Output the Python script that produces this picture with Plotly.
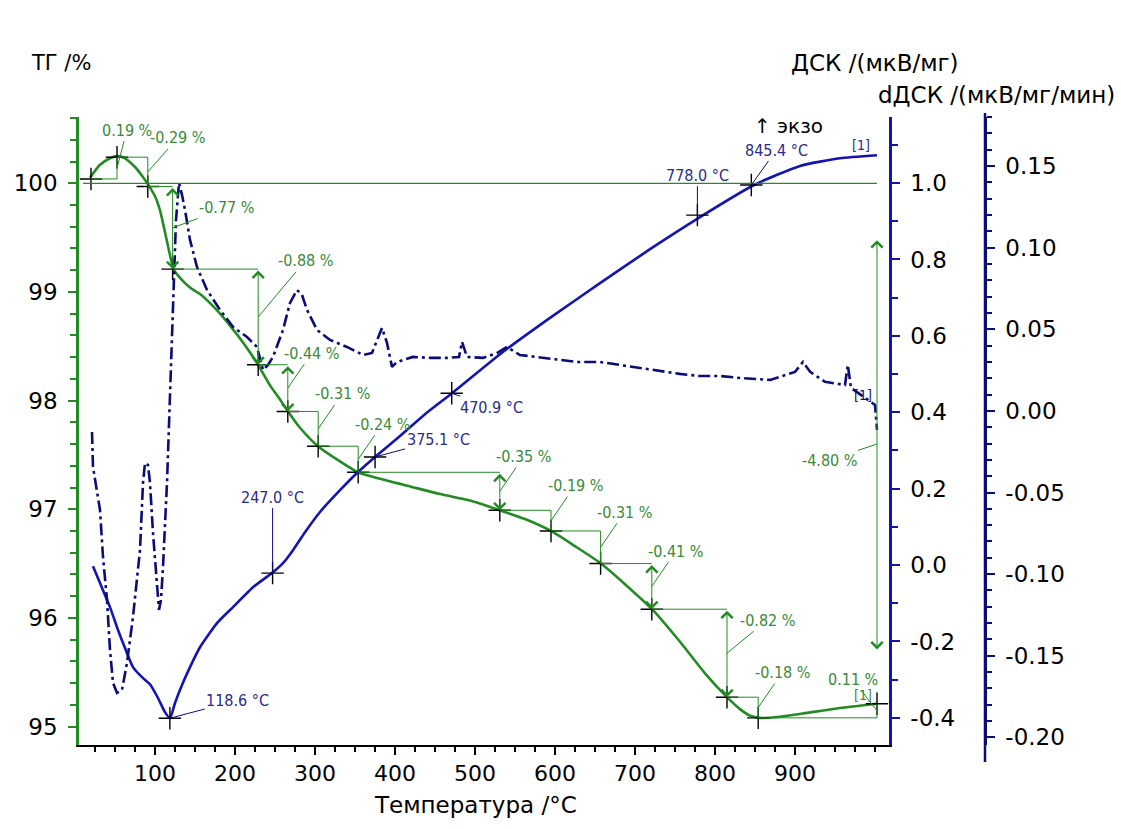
import plotly.graph_objects as go

# ---------------- data ----------------
tg_T = [18.75, 31.25, 43.75, 52.5, 62.5, 75, 83.75, 91.25, 100, 106.25, 112.5, 118.75, 123.75,
        131.25, 143.75, 156.25, 175, 193.75, 212.5, 228.75, 243.75, 256.25, 266.25, 281.25,
        303.75, 331.25, 353.75, 381.25, 418.75, 456.25, 493.75, 531.25, 562.5, 595, 625,
        657.5, 687.5, 721.25, 756.25, 787.5, 815, 831.25, 843.75, 856.25, 881.25, 918.75,
        956.25, 1002.5]
tg_val = [100.05, 100.17, 100.23, 100.25, 100.23, 100.15, 100.07, 99.99, 99.88, 99.75, 99.55,
          99.34, 99.20, 99.13, 99.04, 98.98, 98.85, 98.69, 98.51, 98.33, 98.14, 98.01, 97.90,
          97.75, 97.58, 97.44, 97.34, 97.28, 97.21, 97.14, 97.08, 96.99, 96.91, 96.80, 96.66,
          96.50, 96.31, 96.08, 95.78, 95.49, 95.27, 95.16, 95.10, 95.08, 95.09, 95.13, 95.17,
          95.21]

dsc_T = [22.5, 31.25, 43.75, 53.75, 62.5, 72.5, 85, 93.75, 103.75, 112.5, 118.75, 125, 133.75,
         143.75, 156.25, 177.5, 197.5, 222.5, 246.25, 260, 272.5, 287.5, 306.25, 331.25,
         352.5, 375, 406.25, 437.5, 471.25, 531.25, 593.75, 656.25, 718.75, 781.25, 848.75,
         906.25, 956.25, 1002.5]
dsc_val = [-0.003, -0.047, -0.110, -0.170, -0.217, -0.267, -0.296, -0.312, -0.348, -0.385,
           -0.401, -0.361, -0.314, -0.267, -0.215, -0.152, -0.110, -0.058, -0.021, 0.005,
           0.039, 0.086, 0.139, 0.196, 0.241, 0.283, 0.338, 0.395, 0.450, 0.552, 0.647,
           0.738, 0.827, 0.911, 0.995, 1.045, 1.065, 1.073]

ddsc_T = [21.25, 22.5, 31.25, 35, 40, 43.75, 47.5, 52.5, 58.75, 65, 72.5, 81.25, 85, 87.5,
          91.25, 93.75, 97.5, 102.5, 105, 107.5, 110, 115, 118.75, 122.5, 126.25, 130,
          133.75, 137.5, 143.75, 152.5, 165, 181.25, 197.5, 215, 227.5, 235, 241.25, 247.5,
          260, 268.75, 277.5, 283.75, 290, 302.5, 318.75, 340, 360, 371.25, 377.5, 383.75,
          390, 396.25, 402.5, 422.5, 443.75, 465, 480, 483.75, 490, 510, 527.5, 540, 556,
          577.5, 602.5, 627.5, 656, 681, 719, 756, 781, 806, 831, 869, 900, 910, 919, 937.5,
          962.5, 966, 970, 987.5, 1000, 1002.5]
ddsc_val = [-0.0129, -0.0343, -0.0607, -0.0895, -0.1158, -0.1464, -0.1667, -0.1728, -0.171,
            -0.1544, -0.1262, -0.0852, -0.0441, -0.0319, -0.0331, -0.0441, -0.0748, -0.1054,
            -0.1219, -0.1158, -0.0956, -0.0441, 0.0067, 0.068, 0.117, 0.1397, 0.1324, 0.1232,
            0.1048, 0.0882, 0.0741, 0.0619, 0.0515, 0.0453, 0.0392, 0.0251, 0.0282, 0.0331,
            0.0496, 0.0662, 0.0741, 0.0711, 0.0619, 0.0496, 0.0435, 0.0392, 0.0343, 0.0355,
            0.0435, 0.0509, 0.0417, 0.027, 0.03, 0.0331, 0.0325, 0.0325, 0.0330, 0.0423,
            0.0331, 0.0325, 0.0355, 0.0392, 0.0343, 0.0331, 0.0313, 0.030, 0.030, 0.0282,
            0.0251, 0.0227, 0.0214, 0.0214, 0.0202, 0.019, 0.0239, 0.030, 0.0239, 0.0178,
            0.0159, 0.0282, 0.0141, 0.008, 0.0037, -0.0116]

step_T = [20, 52.5, 91, 122, 229, 266, 304, 354, 531, 595, 657, 721, 815, 854, 1002.5]
step_TG = [100.04, 100.24, 99.97, 99.21, 98.33, 97.90, 97.58, 97.34, 96.99, 96.80, 96.50,
           96.08, 95.27, 95.08, 95.21]
step_labels = ["0.19 %", "-0.29 %", "-0.77 %", "-0.88 %", "-0.44 %", "-0.31 %", "-0.24 %",
               "-0.35 %", "-0.19 %", "-0.31 %", "-0.41 %", "-0.82 %", "-0.18 %", "0.11 %"]
total_label = "-4.80 %"

peak_T = [118.6, 247.0, 375.1, 470.9, 778.0, 845.4]
peak_DSC = [-0.401, -0.021, 0.283, 0.450, 0.916, 0.995]
peak_labels = ["118.6 °C", "247.0 °C", "375.1 °C", "470.9 °C", "778.0 °C", "845.4 °C"]

x_ticks = [100, 200, 300, 400, 500, 600, 700, 800, 900]
tg_ticks = [95, 96, 97, 98, 99, 100]
dsc_ticks = [-0.4, -0.2, 0.0, 0.2, 0.4, 0.6, 0.8, 1.0]
dsc_ticktext = ["-0.4", "-0.2", "0.0", "0.2", "0.4", "0.6", "0.8", "1.0"]
ddsc_ticks = [-0.20, -0.15, -0.10, -0.05, 0.00, 0.05, 0.10, 0.15]
ddsc_ticktext = ["-0.20", "-0.15", "-0.10", "-0.05", "0.00", "0.05", "0.10", "0.15"]

# ---------------- style ----------------
W, H = 1121, 829
ML, MT, MB, MR = 79, 117, 84, 100
PW = W - ML - MR
PH = H - MT - MB
XD = 810 / PW
Y3POS = (985 - ML) / PW

GREEN = "#238b23"
GREEN_TXT = "#3a8a3a"
BLUE = "#1414b4"
NAVY = "#0c0c78"
BLUE_TXT = "#2b2b8c"
AXF = "DejaVu Sans"
SMALLF = "Liberation Sans Narrow, DejaVu Sans Condensed, Arial Narrow, sans-serif"
TICKF = dict(family=AXF, size=23, color="black")

fig = go.Figure()

fig.add_trace(go.Scatter(x=tg_T, y=tg_val, mode="lines", yaxis="y",
                         line=dict(color=GREEN, width=2.6, shape="spline", smoothing=0.6),
                         showlegend=False))
fig.add_trace(go.Scatter(x=dsc_T, y=dsc_val, mode="lines", yaxis="y2",
                         line=dict(color=BLUE, width=2.6, shape="spline", smoothing=0.5),
                         showlegend=False))
fig.add_trace(go.Scatter(x=ddsc_T, y=ddsc_val, mode="lines", yaxis="y3",
                         line=dict(color=NAVY, width=2.6, dash="12px,4px,3px,4px"),
                         showlegend=False))

# crosses
fig.add_trace(go.Scatter(x=step_T, y=step_TG, mode="markers", yaxis="y",
                         marker=dict(symbol="cross-thin", size=16,
                                     line=dict(color="black", width=1.4)),
                         showlegend=False))
fig.add_trace(go.Scatter(x=peak_T, y=peak_DSC, mode="markers", yaxis="y2",
                         marker=dict(symbol="cross-thin", size=16,
                                     line=dict(color="black", width=1.4)),
                         showlegend=False))

shapes = []
annots = []

# 100 % reference line
shapes.append(dict(type="line", xref="x", yref="y", x0=step_T[0] - 10, x1=step_T[-1],
                   y0=100, y1=100, line=dict(color=GREEN, width=1.2)))
# longer dDSC axis line (as in the reference)
shapes.append(dict(type="line", xref="paper", yref="paper", x0=Y3POS, x1=Y3POS,
                   y0=-(762 - 745) / PH, y1=1 + (MT - 113) / PH,
                   line=dict(color=NAVY, width=2.5)))

label_offsets = {0: (10, -38), 1: (30, -34), 2: (54, -20), 3: (47, -56), 11: (40, -33),
                 13: (-24, -31)}
for i, lab in enumerate(step_labels):
    t0, t1 = step_T[i], step_T[i + 1]
    g0, g1 = step_TG[i], step_TG[i + 1]
    shapes.append(dict(type="line", xref="x", yref="y", x0=t0, x1=t1, y0=g0, y1=g0,
                       line=dict(color=GREEN, width=1)))
    if abs(g1 - g0) > 0.33:
        annots.append(dict(x=t1, y=g1, ax=t1, ay=g0, xref="x", yref="y", axref="x",
                           ayref="y", text="", showarrow=True, arrowhead=4,
                           startarrowhead=4, arrowside="end+start", arrowsize=2.2,
                           startarrowsize=2.2, arrowwidth=1, arrowcolor=GREEN))
    else:
        shapes.append(dict(type="line", xref="x", yref="y", x0=t1, x1=t1, y0=g0, y1=g1,
                           line=dict(color=GREEN, width=1)))
    dx, dy = label_offsets.get(i, (24, -35))
    annots.append(dict(x=t1, y=(g0 + g1) / 2, xref="x", yref="y", text=lab,
                       showarrow=True, arrowhead=0, arrowwidth=1, arrowcolor=GREEN,
                       ax=dx, ay=dy, font=dict(family=SMALLF, size=16, color=GREEN_TXT)))

# total change arrow
tot_top = step_TG[0] - 0.55
tot_bot = step_TG[-1] + 0.5
annots.append(dict(x=step_T[-1], y=tot_bot, ax=step_T[-1], ay=tot_top, xref="x", yref="y",
                   axref="x", ayref="y", text="", showarrow=True, arrowhead=4,
                   startarrowhead=4, arrowside="end+start", arrowsize=2.2,
                   startarrowsize=2.2, arrowwidth=1, arrowcolor=GREEN))
annots.append(dict(x=step_T[-1], y=(tot_top + tot_bot) / 2, xref="x", yref="y",
                   text=total_label, showarrow=True, arrowhead=0, arrowwidth=1,
                   arrowcolor=GREEN, ax=-48, ay=16,
                   font=dict(family=SMALLF, size=16, color=GREEN_TXT)))
annots.append(dict(x=step_T[-1], y=step_TG[-1], xref="x", yref="y", text="[1]",
                   showarrow=False, xshift=-14, yshift=9,
                   font=dict(family=SMALLF, size=14, color=GREEN_TXT)))

# DSC peak labels
peak_offsets = [(68, -18), (0, -76), (63, -17), (40, 14), (0, -40), (25, -35)]
for t, v, lab, (dx, dy) in zip(peak_T, peak_DSC, peak_labels, peak_offsets):
    annots.append(dict(x=t, y=v, xref="x", yref="y2", text=lab, showarrow=True,
                       arrowhead=0, arrowwidth=1, arrowcolor=NAVY, ax=dx, ay=dy,
                       font=dict(family=SMALLF, size=16, color=BLUE_TXT)))

annots.append(dict(x=dsc_T[-1], y=dsc_val[-1], xref="x", yref="y2", text="[1]",
                   showarrow=False, xshift=-16, yshift=10,
                   font=dict(family=SMALLF, size=14, color=BLUE_TXT)))
annots.append(dict(x=ddsc_T[-1], y=ddsc_val[-2], xref="x", yref="y3", text="[1]",
                   showarrow=False, xshift=-14, yshift=10,
                   font=dict(family=SMALLF, size=14, color=NAVY)))

# titles
annots.append(dict(xref="paper", yref="paper", x=(29 - ML) / PW, y=1 + (MT - 63) / PH,
                   xanchor="left", yanchor="middle", text="ТГ /%", showarrow=False,
                   font=dict(family=AXF, size=21, color="black")))
annots.append(dict(xref="paper", yref="paper", x=(789 - ML) / PW, y=1 + (MT - 63) / PH,
                   xanchor="left", yanchor="middle", text="ДСК /(мкВ/мг)", showarrow=False,
                   font=dict(family=AXF, size=23, color="black")))
annots.append(dict(xref="paper", yref="paper", x=(1117 - ML) / PW, y=1 + (MT - 95) / PH,
                   xanchor="right", yanchor="middle", text="dДСК /(мкВ/мг/мин)",
                   showarrow=False, font=dict(family=AXF, size=23, color="black")))
annots.append(dict(xref="paper", yref="paper", x=(752 - ML) / PW, y=1 + (MT - 126) / PH,
                   xanchor="left", yanchor="middle", text="↑ экзо", showarrow=False,
                   font=dict(family=AXF, size=20, color="black")))
annots.append(dict(xref="paper", yref="paper", x=(475 - ML) / PW, y=-(805 - 745) / PH,
                   xanchor="center", yanchor="middle", text="Температура /°C",
                   showarrow=False, font=dict(family=AXF, size=23, color="black")))

fig.update_layout(
    width=W, height=H, margin=dict(l=ML, r=MR, t=MT, b=MB),
    paper_bgcolor="white", plot_bgcolor="white",
    shapes=shapes, annotations=annots, showlegend=False,
    xaxis=dict(domain=[0, XD], range=[5, 1017.5], tickvals=x_ticks, ticks="outside",
               ticklen=8, tickwidth=1.5, tickcolor="black", showline=True,
               linecolor="black", linewidth=2, showgrid=False, zeroline=False,
               tickfont=dict(family=AXF, size=22, color="black"), ticklabelstandoff=0,
               minor=dict(dtick=25, tick0=0, ticks="outside", ticklen=5, tickwidth=1.5,
                          tickcolor="black", showgrid=False)),
    yaxis=dict(range=[94.83, 100.61], tickvals=tg_ticks, ticks="outside", ticklen=8,
               tickwidth=1.5, tickcolor=GREEN, showline=True, linecolor=GREEN,
               linewidth=2.5, showgrid=False, zeroline=False,
               tickfont=TICKF, ticklabelstandoff=6,
               minor=dict(dtick=0.2, tick0=95, ticks="outside", ticklen=6, tickwidth=1.5,
                          tickcolor=GREEN, showgrid=False)),
    yaxis2=dict(range=[-0.471, 1.173], tickvals=dsc_ticks, ticktext=dsc_ticktext,
                overlaying="y", side="right", anchor="x", ticks="outside", ticklen=8,
                tickwidth=1.5, tickcolor=BLUE, showline=True, linecolor=BLUE,
                linewidth=2.5, showgrid=False, zeroline=False,
                tickfont=TICKF, ticklabelstandoff=6,
                minor=dict(dtick=0.1, tick0=0, ticks="outside", ticklen=6, tickwidth=1.5,
                           tickcolor=BLUE, showgrid=False)),
    yaxis3=dict(range=[-0.2047, 0.1801], tickvals=ddsc_ticks, ticktext=ddsc_ticktext,
                overlaying="y", side="right", anchor="free", position=Y3POS,
                ticks="outside", ticklen=8, tickwidth=1.5, tickcolor=NAVY, showline=True,
                linecolor=NAVY, linewidth=2.5, showgrid=False, zeroline=False,
                tickfont=TICKF, ticklabelstandoff=6,
                minor=dict(dtick=0.01, tick0=0, ticks="outside", ticklen=5, tickwidth=1.5,
                           tickcolor=NAVY, showgrid=False)),
)

fig.write_html("out.html")
